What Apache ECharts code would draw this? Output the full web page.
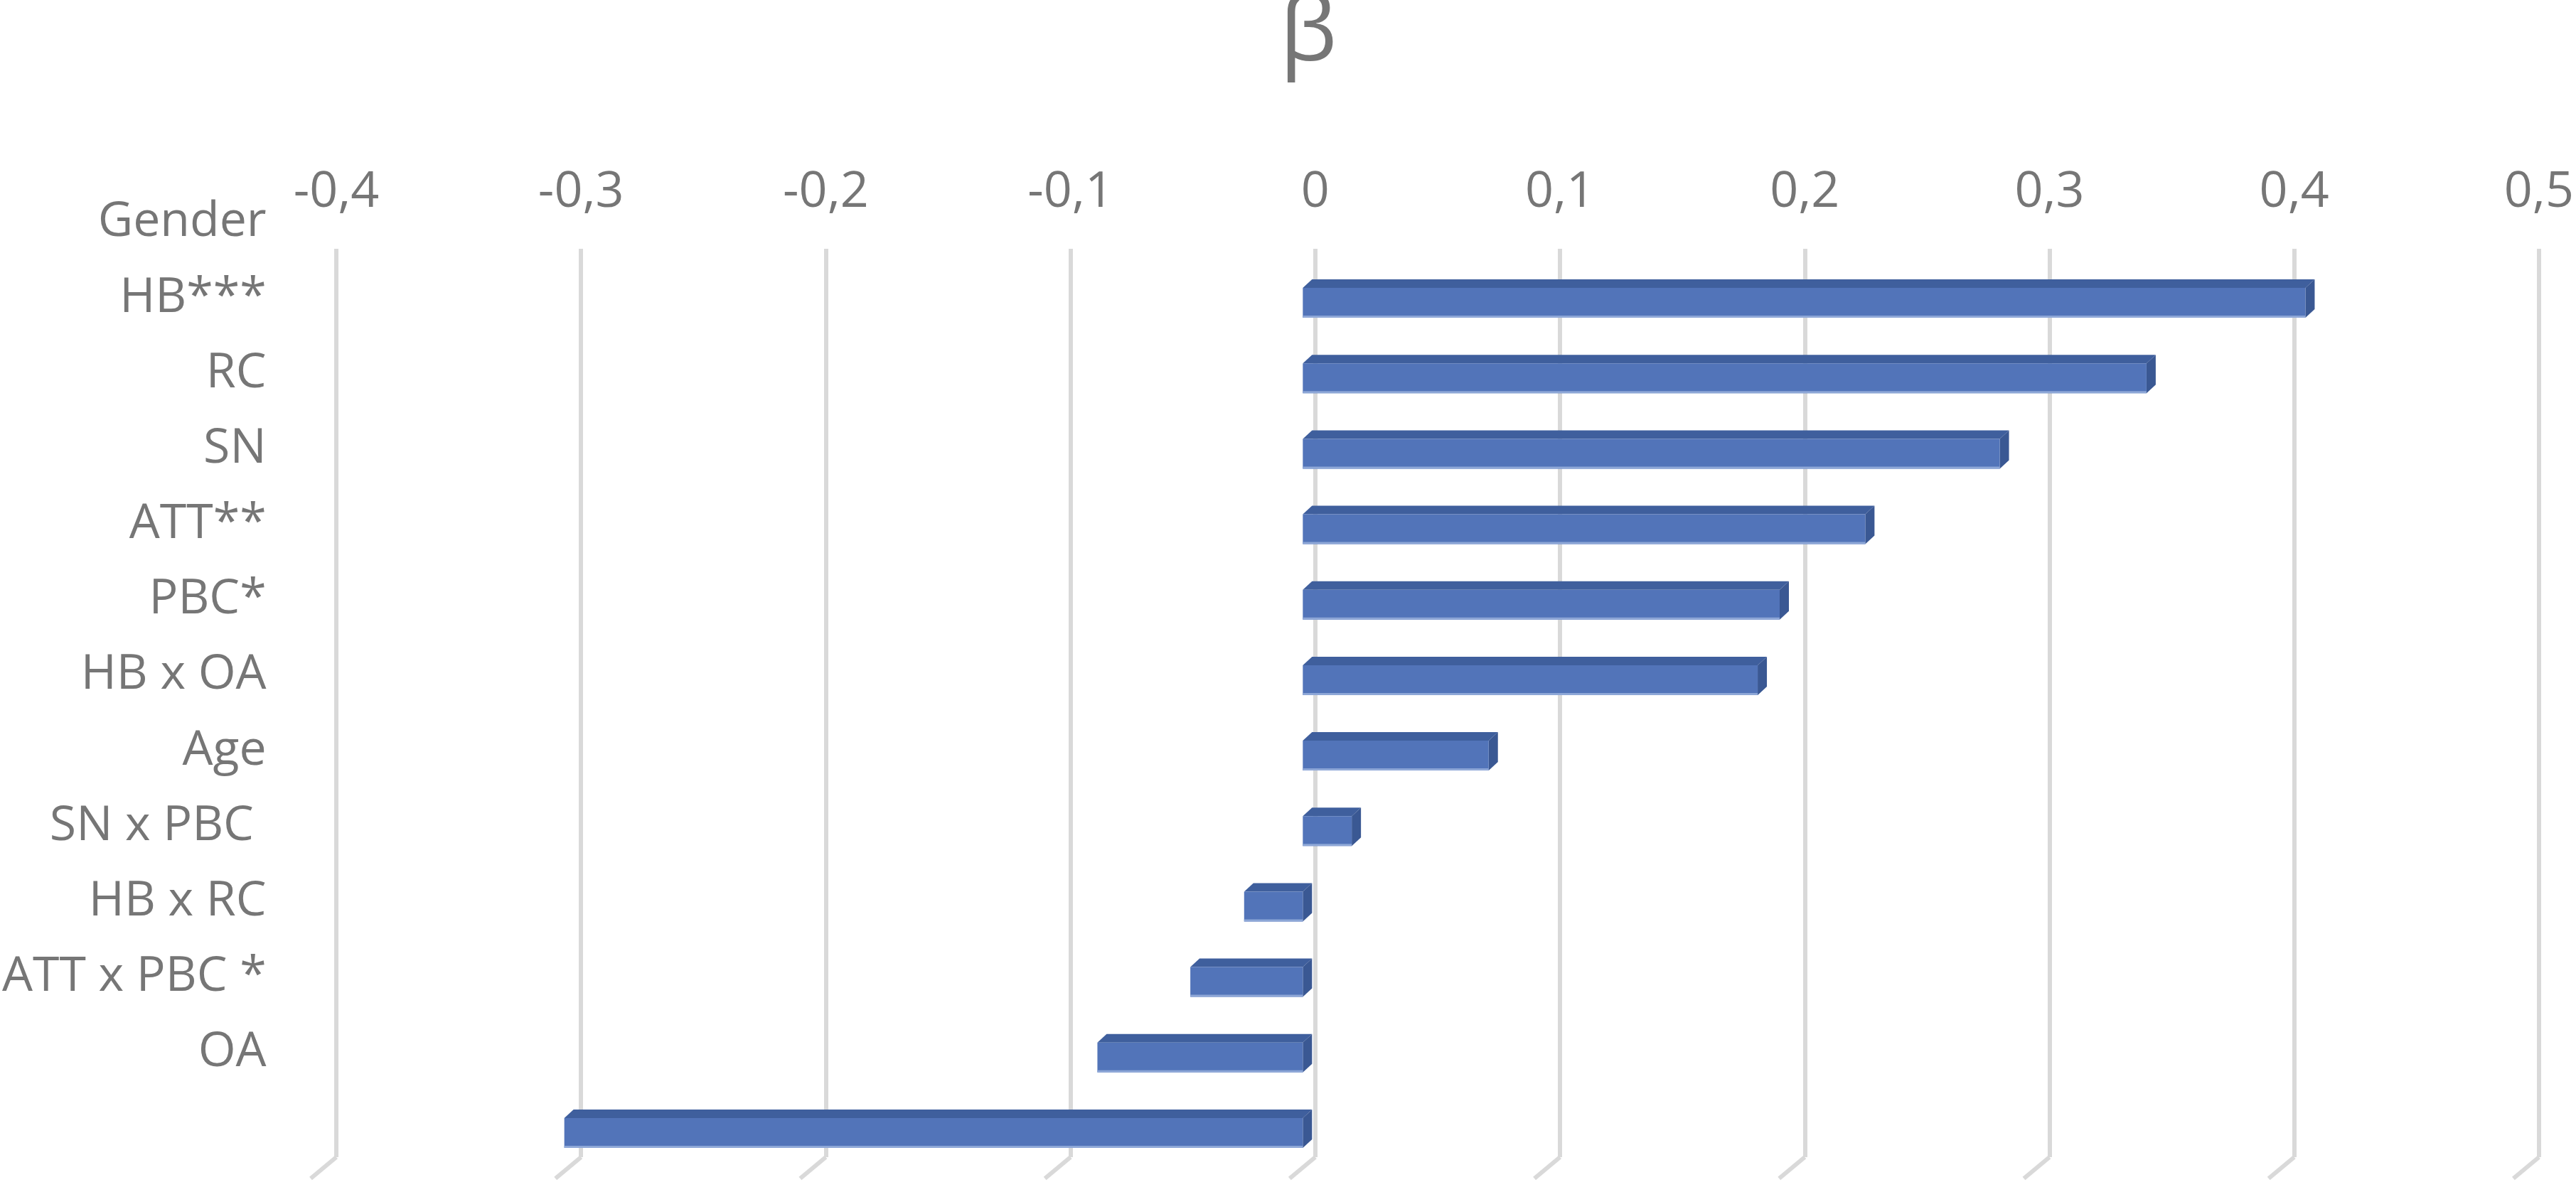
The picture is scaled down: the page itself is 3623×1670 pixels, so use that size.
<!DOCTYPE html>
<html>
<head>
<meta charset="utf-8">
<script src="https://cdn.jsdelivr.net/npm/echarts@6/dist/echarts.min.js"></script>
<style>
  html, body { margin: 0; padding: 0; background: #fff; }
  #chart { width: 3623px; height: 1670px; }
</style>
</head>
<body>
<div id="chart"></div>
<script>
// categories, top to bottom as they are listed on the axis
var categories = ['Gender', 'HB***', 'RC', 'SN', 'ATT**', 'PBC*', 'HB x OA', 'Age', 'SN x PBC ', 'HB x RC', 'ATT x PBC *', 'OA'];
// beta values, one per bar, top to bottom
var betas = [0.41, 0.345, 0.285, 0.23, 0.195, 0.186, 0.076, 0.02, -0.024, -0.046, -0.084, -0.302];
var tickValues = [-0.4, -0.3, -0.2, -0.1, 0, 0.1, 0.2, 0.3, 0.4, 0.5];

var textColor = '#767676';
var font = 'Open Sans';

function fmt(v) {
    return String(+v.toFixed(1)).replace('.', ',');
}

// 3d looking bar: front face, top face and right side
function renderBar(params, api) {
    var v = api.value(0), idx = api.value(1);
    var p0 = api.coord([0, idx]);
    var p1 = api.coord([v, idx]);
    var band = api.size([0, 1])[1];
    var h = band * 0.395;
    var xl = Math.min(p0[0], p1[0]), xr = Math.max(p0[0], p1[0]);
    var yt = p0[1] - h / 2, yb = p0[1] + h / 2;
    var dx = 13, dy = 12;
    return {
        type: 'group',
        children: [
            {type: 'polygon', shape: {points: [[xl, yt], [xl + dx, yt - dy], [xr + dx, yt - dy], [xr, yt]]}, style: {fill: '#3f5f9d'}},
            {type: 'polygon', shape: {points: [[xr, yt], [xr + dx, yt - dy], [xr + dx, yb - dy], [xr, yb]]}, style: {fill: '#3a5893'}},
            {type: 'rect', shape: {x: xl, y: yt, width: xr - xl, height: h}, style: {fill: '#5274b9'}},
            {type: 'rect', shape: {x: xl, y: yb - 3, width: xr - xl, height: 3}, style: {fill: '#8ea7d7'}}
        ]
    };
}

// slanted floor edge under each gridline
function renderFloor(params, api) {
    var p = api.coord([api.value(0), 0]);
    return {
        type: 'line',
        shape: {x1: p[0], y1: p[1], x2: p[0] - 36, y2: p[1] + 30},
        style: {stroke: '#d9d9d9', lineWidth: 6}
    };
}

var option = {
    animation: false,
    backgroundColor: '#ffffff',
    title: {
        text: 'β',
        left: 1795,
        top: -20,
        textStyle: {fontFamily: font, fontSize: 128, fontWeight: 'normal', color: textColor}
    },
    grid: [
        {left: 473, right: 47, top: 350, bottom: 42},
        {left: 449, right: 71, top: 373, bottom: 23}
    ],
    xAxis: [
        {
            gridIndex: 0, type: 'value', position: 'top',
            min: -0.4, max: 0.5, interval: 0.1,
            axisLine: {show: false}, axisTick: {show: false},
            splitLine: {show: true, lineStyle: {color: '#d9d9d9', width: 6}},
            axisLabel: {
                margin: 44, color: textColor, fontFamily: font, fontSize: 70,
                formatter: fmt
            }
        },
        {
            gridIndex: 1, type: 'value',
            min: -0.4, max: 0.5, interval: 0.1, show: false
        }
    ],
    yAxis: [
        {gridIndex: 0, type: 'value', min: 0, max: 1, show: false},
        {
            gridIndex: 1, type: 'category', data: categories, inverse: true,
            axisLine: {show: false}, axisTick: {show: false},
            axisLabel: {
                margin: 82,
                formatter: function (v) { return '{t|' + v + '}'; },
                rich: {
                    t: {color: textColor, fontFamily: font, fontSize: 68, padding: [0, 0, 226, 0]}
                }
            }
        }
    ],
    series: [
        {
            type: 'custom', xAxisIndex: 0, yAxisIndex: 0,
            data: tickValues.map(function (t) { return [t]; }),
            renderItem: renderFloor, silent: true, clip: false
        },
        {
            type: 'custom', xAxisIndex: 1, yAxisIndex: 1,
            data: betas.map(function (b, i) { return [b, i]; }),
            encode: {x: 0, y: 1},
            renderItem: renderBar, clip: false
        }
    ]
};

var chart = echarts.init(document.getElementById('chart'));
chart.setOption(option);
</script>
</body>
</html>
